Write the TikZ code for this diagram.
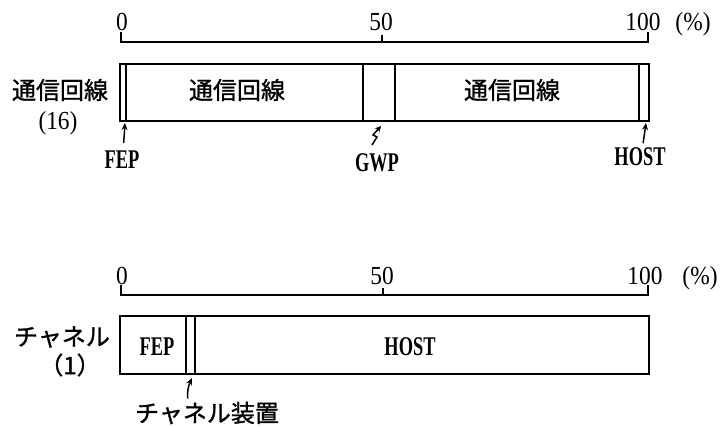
\documentclass[tikz,border=0pt]{standalone}
\usepackage{fontspec}
\setmainfont[FakeStretch=0.68]{Liberation Serif}
\newfontfamily\numf[FakeStretch=0.9]{Liberation Serif}
\newfontfamily\jp[FakeBold=1.2]{Noto Sans CJK JP}
\usetikzlibrary{arrows.meta}
\begin{document}
\begin{tikzpicture}[x=1pt,y=-1pt,
  lat/.style={font=\fontsize{27}{27}\selectfont\bfseries, inner sep=0pt, anchor=base},
  num/.style={font=\numf\fontsize{26}{26}\selectfont, inner sep=0pt, anchor=base},
  jpt/.style={font=\jp\fontsize{24}{24}\selectfont, inner sep=0pt},
  seg/.style={draw, line width=1.2pt, rectangle, inner sep=0pt, outer sep=0pt, anchor=north west},
  scaleline/.style={line width=1.4pt},
  ptr/.style={line width=1.5pt, -{Stealth[length=7pt,width=6pt]}}
]
\useasboundingbox (0,0) rectangle (725,426);

% ---------- top scale ----------
\draw[scaleline] (121,32) -- (121,42) -- (648,42) -- (648,32);
\draw[scaleline] (382,42) -- (382,35);
\node[num] (t0)   at (122,30) {0};
\node[num] (t50)  at (381,30) {50};
\node[num] (t100) at (643,30) {100};
\node[num] (tpc)  at (693,30) {(\%)};

% ---------- top bar ----------
\node[seg, minimum width=6pt,   minimum height=57pt] (t1) at (120,64) {};
\node[seg, minimum width=237pt, minimum height=57pt] (t2) at (126,64) {};
\node[seg, minimum width=32pt,  minimum height=57pt] (t3) at (363,64) {};
\node[seg, minimum width=244pt, minimum height=57pt] (t4) at (395,64) {};
\node[seg, minimum width=10pt,  minimum height=57pt] (t5) at (639,64) {};
\node[jpt] (t2txt) at (237,90) {通信回線};
\node[jpt] (t4txt) at (512,90) {通信回線};

\node[jpt] (tl1) at (60,90)  {通信回線};
\node[num] (tl2) at (58,129) {(16)};

% labels under top bar
\node[lat] (fepL)  at (122,168) {FEP};
\node[lat] (gwpL)  at (377,171) {GWP};
\node[lat] (hostL) at (640,165) {HOST};

\coordinate (fepT)  at (125,123);
\coordinate (gwpT)  at (381,126);
\coordinate (hostT) at (646,123);

\draw[ptr, shorten <=25pt] (fepL.base) -- (fepT);
\draw[line width=1.5pt, -{Stealth[length=6pt,width=6pt]}]
  (372,145) -- (377,137) -- (373,135) -- (gwpT);
\draw[ptr, shorten <=22pt] (hostL.base) -- (hostT);

% ---------- bottom scale ----------
\draw[scaleline] (121,285) -- (121,295) -- (648,295) -- (648,285);
\draw[scaleline] (383,295) -- (383,288);
\node[num] (b0)   at (122,284) {0};
\node[num] (b50)  at (382,284) {50};
\node[num] (b100) at (645,284) {100};
\node[num] (bpc)  at (700,284) {(\%)};

% ---------- bottom bar ----------
\node[seg, minimum width=66pt,  minimum height=58pt] (b1) at (120,316) {};
\node[seg, minimum width=9pt,   minimum height=58pt] (b2) at (186,316) {};
\node[seg, minimum width=454pt, minimum height=58pt] (b3) at (195,316) {};
\node[lat] (fepB)  at (157,355) {FEP};
\node[lat] (hostB) at (410,355) {HOST};

\node[jpt] (bl1) at (62,337) {チャネル};
\node[jpt] (bl2) at (70,365) {（1）};

\node[jpt] (chL) at (207,413) {チャネル装置};
\coordinate (chT) at (192,378);
\draw[ptr, shorten <=3pt] (chL.north -| 188,0) to[bend left=15] (chT);
\end{tikzpicture}
\end{document}
